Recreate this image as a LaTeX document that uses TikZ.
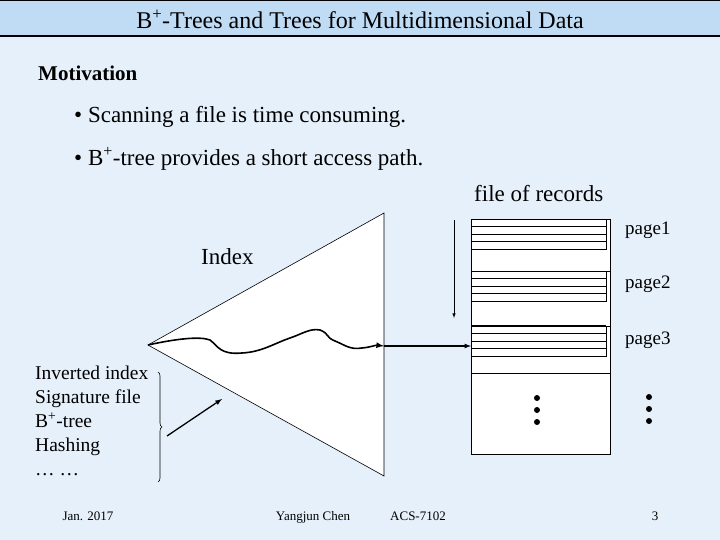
\documentclass[tikz,border=0pt]{standalone}
\usepackage{fontspec}
\setmainfont{Liberation Serif}
\usetikzlibrary{decorations.pathreplacing}
\definecolor{bg}{HTML}{E6F0FA}
\definecolor{bar}{HTML}{C0DCF5}
\begin{document}
\begin{tikzpicture}[x=1pt,y=-1pt,
  txt/.style={inner sep=0pt,font=\fontsize{23}{26}\selectfont},
  small/.style={inner sep=0pt,anchor=base,font=\fontsize{13}{15}\selectfont},
  lst/.style={inner sep=0pt,font=\fontsize{19.5}{24}\selectfont,align=left,anchor=north west},
  dot/.style={circle,fill=black,inner sep=0pt,minimum size=6pt},
  thinl/.style={draw=black,line width=0.6pt}]
\useasboundingbox (0,0) rectangle (720,540);
\fill[bg] (0,0) rectangle (720,540);
\fill[bar] (0,0) rectangle (720,36);
\draw[line width=1.2pt] (0,36) -- (720,36);
\draw[line width=1pt] (0,1) -- (720,1);
\node[txt,font=\fontsize{24}{26}\selectfont] (title) at (360,19) {B\textsuperscript{+}-Trees and Trees for Multidimensional Data};
\node[txt,anchor=west,font=\bfseries\fontsize{21}{24}\selectfont] (mot) at (38,73) {Motivation};
\node[txt,anchor=west] (b1) at (74,117) {• Scanning a file is time consuming.};
\node[txt,anchor=west] (b2) at (74,159) {• B\textsuperscript{+}-tree provides a short access path.};
\node[txt,anchor=west] (for) at (474,194) {file of records};
% triangle
\coordinate (apex) at (148,345);
\draw[thinl,fill=white] (apex) -- (384,213) -- (384,476) -- cycle;
\node[txt,anchor=west] (idx) at (201,257) {Index};
% file
\draw[thinl,fill=white] (471,219) rectangle (610,454);
\foreach \t in {219,271,326}{
  \draw[thinl] (471,\t) rectangle (606,\t+30);
  \foreach \k in {7,15,22} \draw[thinl] (471,\t+\k) -- (606,\t+\k);
  \draw[thinl] (606,\t) -- (610,\t);
}
\draw[line width=1.2pt] (471,326) -- (606,326);
\draw[thinl] (471,373) -- (610,373);
\node[txt,anchor=west,font=\fontsize{19}{20}\selectfont] (p1) at (625,230) {page1};
\node[txt,anchor=west,font=\fontsize{19}{20}\selectfont] (p2) at (625,284) {page2};
\node[txt,anchor=west,font=\fontsize{19}{20}\selectfont] (p3) at (625,340) {page3};
\foreach \y [count=\i] in {398,410,422}{
  \node[dot] (da\i) at (537,\y) {};
  \node[dot] (db\i) at (649,\y-1) {};
}
\coordinate (dtop) at (454,220);
\coordinate (dbot) at (454,318);
\draw[-latex,thinl] (dtop) -- (dbot);
% wavy path
\coordinate (wend) at (384,346);
\coordinate (fin) at (471,346);
\draw[line width=1.6pt,-latex] (apex) .. controls (175,339) and (200,336) .. (210,340)
  .. controls (218,346) and (220,355) .. (242,353)
  .. controls (262,352) and (275,343) .. (290,338)
  .. controls (302,334) and (310,328) .. (320,330)
  .. controls (330,334) and (325,337) .. (335,341)
  .. controls (345,345) and (350,350) .. (362,348)
  .. controls (372,347) and (375,345) .. (wend);
\draw[line width=1.2pt,-latex] (wend) -- (fin);
% list
\node[lst] (list) at (35,366) {Inverted index\\Signature file\\B\textsuperscript{+}-tree\\Hashing\\\dots\ \dots};
\draw[thinl,decorate,decoration={brace,amplitude=4pt}] (158,372) -- (158,482);
\coordinate (as) at (167,436);
\coordinate (ae) at (222,399);
\draw[line width=1.3pt,-latex] (as) -- (ae);
% footer
\node[small] (f1) at (88,520) {Jan. 2017};
\node[small] (f2) at (313,520) {Yangjun Chen};
\node[small] (f3) at (418,520) {ACS-7102};
\node[small] (f4) at (655,520) {3};
\end{tikzpicture}
\end{document}
